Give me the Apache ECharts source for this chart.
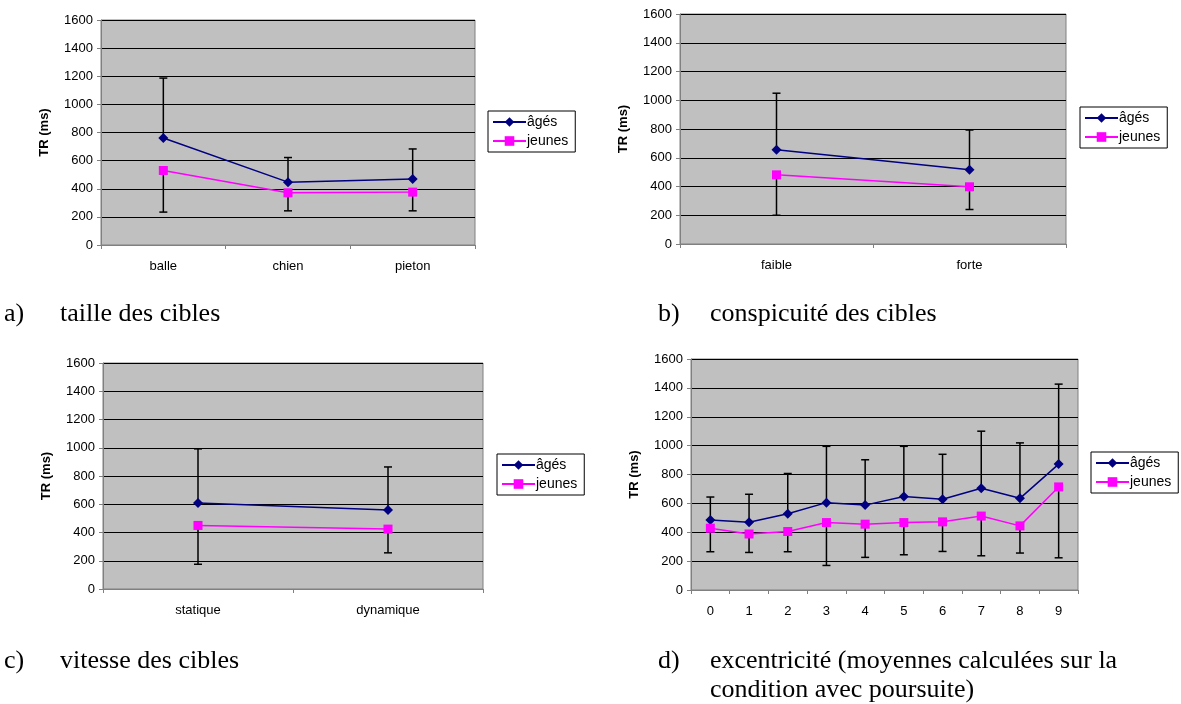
<!DOCTYPE html>
<html>
<head>
<meta charset="utf-8">
<script src="https://cdn.jsdelivr.net/npm/echarts@6/dist/echarts.min.js"></script>
<style>
  html, body { margin: 0; padding: 0; background: #fff; }
  #chart { width: 1181px; height: 704px; }
</style>
</head>
<body>
<div id="chart"></div>
<script>
// a) taille des cibles
var catsA = ['balle', 'chien', 'pieton'];
var agesA = [761, 447, 470];
var agesHiA = [1187, 622, 683];
var jeunesA = [530, 371, 376];
var jeunesLoA = [234, 243, 243];

// b) conspicuité des cibles
var catsB = ['faible', 'forte'];
var agesB = [656, 516];
var agesHiB = [1049, 793];
var jeunesB = [481, 398];
var jeunesLoB = [200, 240];

// c) vitesse des cibles
var catsC = ['statique', 'dynamique'];
var agesC = [608, 559];
var agesHiC = [992, 864];
var jeunesC = [450, 424];
var jeunesLoC = [175, 256];

// d) excentricité
var catsD = ['0', '1', '2', '3', '4', '5', '6', '7', '8', '9'];
var agesD = [484, 470, 528, 605, 588, 647, 628, 705, 635, 872];
var agesHiD = [644, 663, 807, 995, 902, 995, 940, 1100, 1019, 1426];
var jeunesD = [428, 388, 405, 467, 456, 467, 472, 512, 444, 714];
var jeunesLoD = [265, 260, 265, 170, 226, 244, 267, 237, 256, 223];

var yTicks = { min: 0, max: 1600, interval: 200 };

var panels = [
  { cats: catsA, ages: agesA, hi: agesHiA, jeunes: jeunesA, lo: jeunesLoA,
    grid: { left: 101, top: 20, width: 374, height: 225 }, legend: { left: 488, top: 111 } },
  { cats: catsB, ages: agesB, hi: agesHiB, jeunes: jeunesB, lo: jeunesLoB,
    grid: { left: 680, top: 14, width: 386, height: 230 }, legend: { left: 1080, top: 107 } },
  { cats: catsC, ages: agesC, hi: agesHiC, jeunes: jeunesC, lo: jeunesLoC,
    grid: { left: 103, top: 363, width: 380, height: 226 }, legend: { left: 497, top: 454 } },
  { cats: catsD, ages: agesD, hi: agesHiD, jeunes: jeunesD, lo: jeunesLoD,
    grid: { left: 691, top: 359, width: 387, height: 231 }, legend: { left: 1091, top: 452 } }
];

var FONT = '"Liberation Sans", Arial, sans-serif';
var SERIF = '"Liberation Serif", "Times New Roman", serif';

function errBar(params, api) {
  var p0 = api.coord([api.value(0), api.value(1)]);
  var p1 = api.coord([api.value(0), api.value(2)]);
  var style = { stroke: '#000', lineWidth: 1.5 };
  return {
    type: 'group',
    children: [
      { type: 'line', shape: { x1: p0[0], y1: p0[1], x2: p1[0], y2: p1[1] }, style: style },
      { type: 'line', shape: { x1: p1[0] - 4, y1: p1[1], x2: p1[0] + 4, y2: p1[1] }, style: style }
    ]
  };
}

var option = {
  animation: false,
  grid: [], xAxis: [], yAxis: [], series: [], legend: [],
  graphic: []
};

panels.forEach(function (p, i) {
  option.grid.push({
    left: p.grid.left, top: p.grid.top, width: p.grid.width, height: p.grid.height,
    show: true, backgroundColor: '#C0C0C0', borderColor: '#808080', borderWidth: 1
  });
  option.xAxis.push({
    type: 'category', gridIndex: i, data: p.cats, boundaryGap: true,
    axisLine: { lineStyle: { color: '#808080', width: 1 } },
    axisTick: { show: true, length: 4, lineStyle: { color: '#808080' } },
    axisLabel: { color: '#000', fontFamily: FONT, fontSize: 13, margin: 15 },
    splitLine: { show: false }
  });
  option.yAxis.push({
    type: 'value', gridIndex: i, min: yTicks.min, max: yTicks.max, interval: yTicks.interval,
    name: 'TR (ms)', nameLocation: 'middle', nameRotate: 90, nameGap: 50,
    nameTextStyle: { color: '#000', fontFamily: FONT, fontSize: 13, fontWeight: 'bold' },
    axisLine: { show: true, lineStyle: { color: '#808080', width: 1 } },
    axisTick: { show: true, length: 4, lineStyle: { color: '#808080' } },
    axisLabel: { color: '#000', fontFamily: FONT, fontSize: 13, margin: 8,
      formatter: function (v) { return String(v); } },
    splitLine: { show: true, lineStyle: { color: '#000', width: 1 } }
  });

  var up = p.ages.map(function (v, k) { return [k, v, p.hi[k]]; });
  var down = p.jeunes.map(function (v, k) { return [k, v, p.lo[k]]; });
  option.series.push({
    type: 'custom', xAxisIndex: i, yAxisIndex: i, renderItem: errBar,
    encode: { x: 0, y: [1, 2] }, data: up, z: 1, silent: true
  });
  option.series.push({
    type: 'custom', xAxisIndex: i, yAxisIndex: i, renderItem: errBar,
    encode: { x: 0, y: [1, 2] }, data: down, z: 1, silent: true
  });
  option.series.push({
    name: 'âgés', type: 'line', xAxisIndex: i, yAxisIndex: i, data: p.ages,
    symbol: 'diamond', symbolSize: 10, z: 3,
    lineStyle: { color: '#000080', width: 1.5 },
    itemStyle: { color: '#000080' }
  });
  option.series.push({
    name: 'jeunes', type: 'line', xAxisIndex: i, yAxisIndex: i, data: p.jeunes,
    symbol: 'rect', symbolSize: 9, z: 3,
    lineStyle: { color: '#FF00FF', width: 1.5 },
    itemStyle: { color: '#FF00FF' }
  });
  option.legend.push({
    left: p.legend.left, top: p.legend.top, orient: 'vertical',
    data: ['âgés', 'jeunes'],
    backgroundColor: '#fff', borderColor: '#000', borderWidth: 1,
    padding: [4, 7, 4, 4], itemGap: 5, itemWidth: 33, itemHeight: 12,
    textStyle: { color: '#000', fontFamily: FONT, fontSize: 14, padding: [0, 0, 0, -4] },
    selectedMode: false
  });
});

function caption(x, y, txt) {
  option.graphic.push({
    type: 'text', left: x, top: y,
    style: { text: txt, fill: '#000', font: '26px ' + SERIF }
  });
}
caption(4, 301, 'a)');
caption(60, 301, 'taille des cibles');
caption(658, 301, 'b)');
caption(710, 301, 'conspicuité des cibles');
caption(4, 648, 'c)');
caption(60, 648, 'vitesse des cibles');
caption(658, 648, 'd)');
caption(710, 648, 'excentricité (moyennes calculées sur la');
caption(710, 677, 'condition avec poursuite)');

var chart = echarts.init(document.getElementById('chart'));
chart.setOption(option);
</script>
</body>
</html>
